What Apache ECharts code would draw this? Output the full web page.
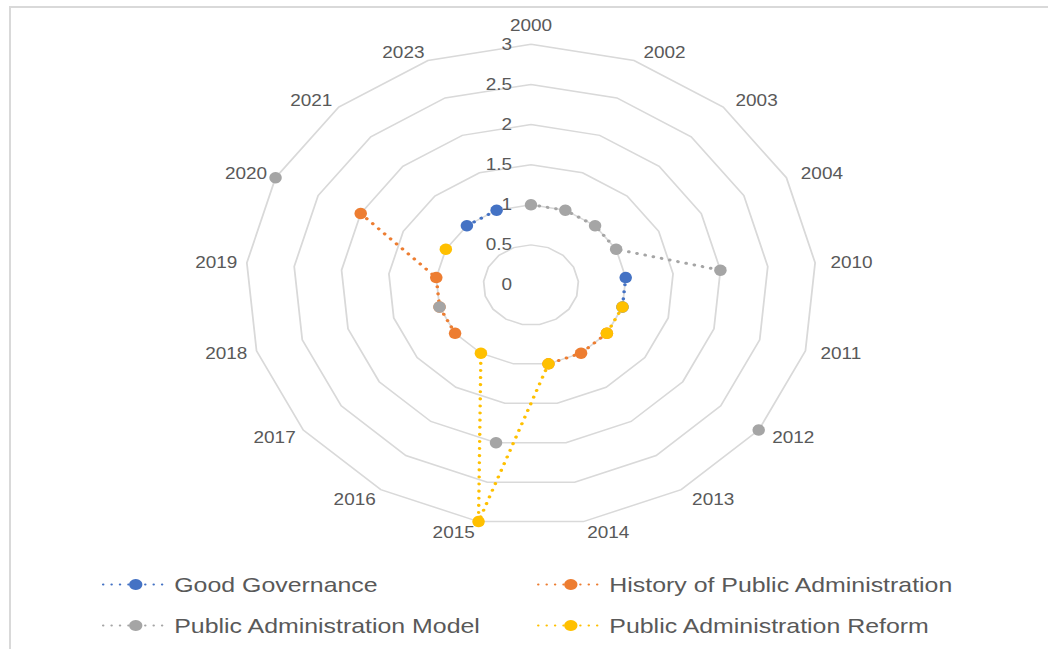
<!DOCTYPE html>
<html>
<head>
<meta charset="utf-8">
<script src="https://cdn.jsdelivr.net/npm/echarts@6/dist/echarts.min.js"></script>
<style>
  html, body { margin: 0; padding: 0; background: #fff; }
  #frame { position: relative; width: 1048px; height: 649px; overflow: hidden; background: #fff; }
  #border { position: absolute; left: 9px; top: 6px; width: 1100px; height: 700px;
            border-top: 2px solid #d9d9d9; border-left: 2px solid #d9d9d9; }
  /* the source picture was stretched sideways, so the chart is too */
  #chart { position: absolute; left: 0; top: 0; width: 884px; height: 649px;
           transform: scaleX(1.1855); transform-origin: 0 0; }
</style>
</head>
<body>
<div id="frame">
  <div id="border"></div>
  <div id="chart"></div>
</div>
<script>
// categories (clockwise from the top)
const years = ['2000', '2002', '2003', '2004', '2010', '2011', '2012', '2013', '2014',
               '2015', '2016', '2017', '2018', '2019', '2020', '2021', '2023'];

// series values, null = no entry for that year
const goodGovernance = [null, null, null, null, 1, 1, null, null, null, null, null, null, null, null, null, 1, 1];
const historyOfPA    = [null, null, null, null, null, null, 1, 1, 1, null, null, 1, 1, 1, 2, null, null];
const paModel        = [1, 1, 1, 1, 2, null, 3, null, null, 2, null, null, 1, null, 3, null, null];
const paReform       = [null, null, null, null, null, 1, 1, null, 1, 3, 1, null, null, null, 1, null, null];

const valueMin = 0;
const valueMax = 3;
const valueStep = 0.5;

const seriesNames = ['Good Governance', 'History of Public Administration',
                     'Public Administration Model', 'Public Administration Reform'];
const seriesColors = ['#4472C4', '#ED7D31', '#A5A5A5', '#FFC000'];
const seriesValues = [goodGovernance, historyOfPA, paModel, paReform];

const FONT = '"Liberation Sans", Arial, sans-serif';
const center = [447.9, 285];
const radius = 240.7;

const chart = echarts.init(document.getElementById('chart'), null, {renderer: 'svg'});

// nudge the year labels so they sit like Excel puts them round the vertices
function yearLabel(name, i) {
  const a = i / years.length * 2 * Math.PI;
  const s = Math.sin(a), c = Math.cos(a);
  const pad = [0, 0, 0, 0];
  if (Math.abs(s) < 0.3) {
    if (c > 0) pad[2] = 3;
    else if (s > 0) pad[3] = 39;
    else pad[1] = 39;
  } else if (s > 0) {
    pad[3] = 5;
  }
  if (Math.abs(c) >= 0.3 && Math.abs(s) >= 0.3) {
    if (c > 0) pad[2] = -7;
    else pad[0] = -5;
  }
  if (Math.abs(s) < 0.3 && c < 0) pad[0] = -5;
  return {value: name, textStyle: {padding: pad}};
}

function makeSeries(i) {
  return {
    name: seriesNames[i],
    type: 'line',
    coordinateSystem: 'polar',
    data: seriesValues[i],
    connectNulls: false,
    showAllSymbol: true,
    clip: false,
    symbol: 'circle',
    symbolSize: [10.5, 11.5],
    itemStyle: {color: seriesColors[i]},
    lineStyle: {color: seriesColors[i], width: 3, type: [0.1, 7], cap: 'round'},
    emphasis: {disabled: true},
    silent: true
  };
}

function makeLegend(names, left) {
  return {
    data: names,
    orient: 'vertical',
    left: left,
    top: 574,
    padding: 0,
    itemWidth: 55,
    itemHeight: 14,
    itemGap: 20,
    textStyle: {color: '#595959', fontSize: 21, fontFamily: FONT}
  };
}

const option = {
  animation: false,
  backgroundColor: 'transparent',
  radar: {
    center: center,
    radius: radius,
    startAngle: 90,
    shape: 'polygon',
    splitNumber: (valueMax - valueMin) / valueStep,
    indicator: years.map(y => ({name: y, min: valueMin, max: valueMax})),
    axisName: {show: false},
    axisLine: {show: false},
    axisTick: {show: false},
    splitArea: {show: false},
    splitLine: {lineStyle: {color: '#d9d9d9', width: 1.5}}
  },
  polar: {center: center, radius: radius},
  angleAxis: {
    type: 'category',
    data: years.map(yearLabel),
    boundaryGap: false,
    startAngle: 90,
    clockwise: true,
    axisLine: {show: false},
    axisTick: {show: false},
    splitLine: {show: false},
    axisLabel: {color: '#595959', fontSize: 16, fontFamily: FONT, margin: 8}
  },
  radiusAxis: {
    type: 'value',
    min: valueMin,
    max: valueMax,
    interval: valueStep,
    axisLine: {show: false},
    axisTick: {show: false},
    splitLine: {show: false},
    axisLabel: {color: '#595959', fontSize: 16, fontFamily: FONT, margin: 16, padding: [4, 0, 0, 0]}
  },
  legend: [
    makeLegend([seriesNames[0], seriesNames[2]], 86),
    makeLegend([seriesNames[1], seriesNames[3]], 453)
  ],
  series: seriesValues.map((v, i) => makeSeries(i))
};

chart.setOption(option);
</script>
</body>
</html>
